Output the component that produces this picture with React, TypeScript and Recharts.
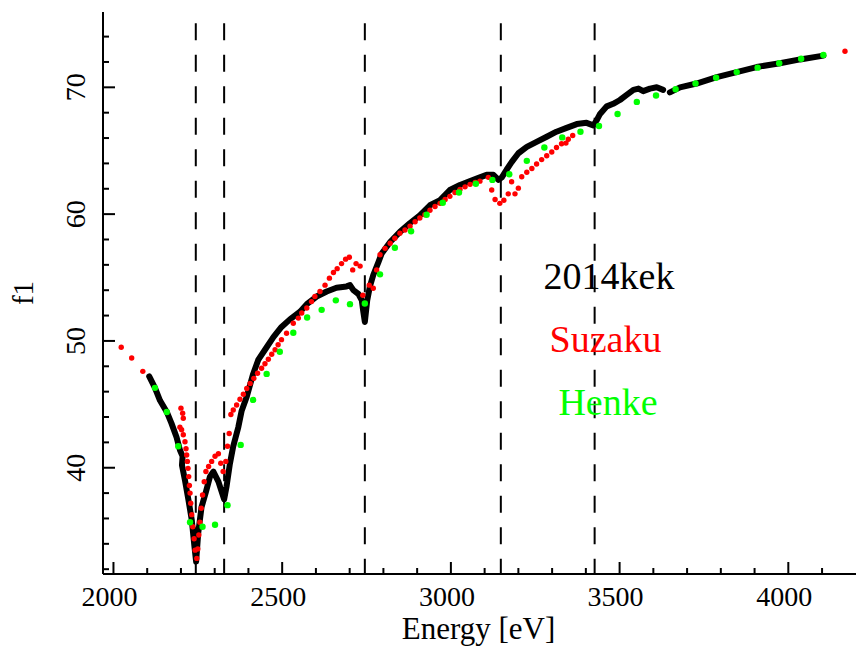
import React from "react";
import {
  ComposedChart,
  Line,
  Scatter,
  XAxis,
  YAxis,
  ReferenceLine,
  Legend,
} from "recharts";

// 2014kek (black)
const kekEnergy = [
  2106, 2123, 2138, 2158, 2172, 2187, 2197, 2205, 2203, 2212, 2222, 2232, 2240, 2245, 2251,
  2261, 2274, 2286, 2296, 2311, 2328, 2335, 2345, 2355, 2370, 2380, 2395, 2414, 2429, 2454,
  2474, 2498, 2523, 2553, 2573, 2602, 2632, 2661, 2691, 2701, 2711, 2726, 2736, 2740, 2745,
  2752, 2760, 2770, 2785, 2795, 2820, 2849, 2879, 2908, 2938, 2968, 2997, 3027, 3057, 3086,
  3106, 3126, 3141, 3151, 3165, 3180, 3200, 3225, 3254, 3284, 3313, 3343, 3373, 3402, 3422,
  3432, 3442, 3462, 3481, 3501, 3521, 3541, 3556, 3570, 3590, 3610, 3629, 3639, 3649, 3679,
  3728, 3788, 3847, 3906, 3975, 4035, 4104,
];
const kekF1 = [
  47.2, 46.3, 45.3, 44.4, 43.5, 42.4, 41.4, 40.9, 40.2, 39.0, 37.5, 35.9, 33.8, 32.6, 34.8,
  36.9, 38.1, 39.3, 39.7, 38.9, 37.5, 38.5, 40.3, 41.7, 43.2, 44.5, 45.6, 47.4, 48.5, 49.5,
  50.3, 51.1, 51.7, 52.3, 52.9, 53.5, 53.9, 54.2, 54.3, 54.4, 54.0, 53.7, 53.2, 52.4, 51.5,
  53.2, 54.3, 55.2, 56.2, 56.9, 57.8, 58.6, 59.3, 59.9, 60.7, 61.1, 61.9, 62.3, 62.6, 62.9,
  63.1, 63.1, 62.7, 62.9, 63.5, 64.1, 64.8, 65.3, 65.7, 66.1, 66.5, 66.8, 67.1, 67.2, 67.0,
  67.4, 67.9, 68.5, 68.7, 69.0, 69.4, 69.8, 69.9, 69.7, 69.9, 70.0, 69.8, null, 69.6, 70.0,
  70.3, 70.8, 71.2, 71.6, 71.9, 72.2, 72.5,
];

// Suzaku (red)
const suzakuEnergy = [
  2023, 2054, 2087, 2197, 2200, 2202, 2205, 2207, 2207, 2212, 2215, 2217, 2219, 2221, 2223,
  2225, 2227, 2229, 2232, 2235, 2239, 2242, 2247, 2250, 2253, 2256, 2260, 2264, 2269, 2274,
  2282, 2291, 2301, 2311, 2318, 2325, 2333, 2338, 2343, 2348, 2355, 2365, 2375, 2385, 2395,
  2405, 2416, 2427, 2439, 2449, 2459, 2469, 2479, 2488, 2498, 2513, 2533, 2548, 2558, 2573,
  2587, 2597, 2612, 2627, 2640, 2652, 2663, 2676, 2688, 2699, 2709, 2719, 2731, 2739, 2758,
  2770, 2780, 2790, 2805, 2820, 2834, 2849, 2864, 2879, 2894, 2908, 2923, 2938, 2953, 2968,
  2983, 2997, 3012, 3027, 3042, 3057, 3072, 3086, 3111, 3121, 3131, 3145, 3157, 3170, 3180,
  3190, 3200, 3210, 3225, 3240, 3254, 3269, 3284, 3299, 3313, 3328, 3341, 3348, 3361, 4168,
];
const suzakuF1 = [
  49.5, 48.65, 47.6, 43.2, 44.7, 43.0, 44.3, 43.9, 42.6, 42.05, 41.5, 41.0, 40.5, 39.95, 39.3,
  38.6, 38.0, 37.2, 36.3, 35.35, 34.4, 33.5, 32.85, 33.6, 34.7, 35.7, 36.8, 37.85, 38.9, 39.7,
  40.1, 40.5, 40.9, 41.1, 40.35, 39.7, 40.5, 41.7, 42.7, 44.2, 44.55, 44.95, 45.4, 45.8, 46.25,
  46.65, 47.05, 47.45, 47.85, 48.2, 48.55, 48.95, 49.3, 49.7, 50.1, 50.6, 51.4, 51.8, 52.2, 52.6,
  53.1, 53.5, 53.9, 54.4, 54.95, 55.4, 55.7, 56.1, 56.45, 56.6, 55.6, 56.1, 55.9, 53.6, 54.4,
  54.15, 55.6, 56.8, 57.3, 57.7, 58.1, 58.5, 58.75, 59.05, 59.4, 59.7, 59.95, 60.3, 60.6, 60.85,
  61.15, 61.4, 61.7, 61.95, 62.15, 62.35, 62.5, 62.6, 62.9, 61.9, 61.15, 60.85, 61.1, 61.6, 62.55,
  61.6, 62.05, 62.95, 63.3, 63.6, 63.95, 64.3, 64.6, 64.9, 65.25, 65.55, 65.6, 65.9, 66.2, 72.85,
];

// Henke (green)
const henkeEnergy = [
  2123, 2158, 2192, 2227, 2264, 2301, 2338, 2377, 2414, 2454, 2493, 2533, 2574, 2617, 2659,
  2701, 2745, 2790, 2834, 2882, 2928, 2976, 3024, 3074, 3123, 3173, 3225, 3277, 3330, 3384,
  3439, 3494, 3551, 3608, 3666, 3725, 3786, 3847, 3909, 3973, 4038, 4104,
];
const henkeF1 = [
  46.3, 44.4, 41.7, 35.7, 35.35, 35.5, 37.05, 41.8, 45.35, 47.4, 49.15, 50.65, 51.85, 52.45, 53.2,
  52.9, 52.95, 55.25, 57.35, 58.65, 59.95, 60.9, 61.7, 62.4, 62.7, 63.15, 64.2, 65.25, 66.05, 66.5,
  66.95, 67.9, 68.85, 69.35, 69.85, 70.3, 70.75, 71.2, 71.55, 71.9, 72.25, 72.55,
];

// absorption edges (dashed lines)
const edgeEnergies = [2244, 2328, 2745, 3148, 3426];

const xTicks = [
  2000, 2100, 2200, 2300, 2400, 2500, 2600, 2700, 2800, 2900, 3000, 3100, 3200, 3300, 3400,
  3500, 3600, 3700, 3800, 3900, 4000, 4100,
];
const xLabelTicks = [2000, 2500, 3000, 3500, 4000];
const yTicks = [
  32, 34, 36, 38, 40, 42, 44, 46, 48, 50, 52, 54, 56, 58, 60, 62, 64, 66, 68, 70, 72, 74,
];
const yLabelTicks = [40, 50, 60, 70];

const seriesNames = ["2014kek", "Suzaku", "Henke"];

const kek = kekEnergy.map((e, i) => ({ e, f: kekF1[i] }));
const suzaku = suzakuEnergy.map((e, i) => ({ e, f: suzakuF1[i] }));
const henke = henkeEnergy.map((e, i) => ({ e, f: henkeF1[i] }));

const FONT = "Liberation Serif, Times New Roman, serif";
const X_DOMAIN = [1969, 4200.6];
const Y_DOMAIN = [31.62, 75.94];

function BottomTick({ x, y, payload }: any) {
  const major = xLabelTicks.includes(payload.value);
  return (
    <g>
      <line x1={x} x2={x} y1={y} y2={y - (major ? 12 : 6)} stroke="#000" strokeWidth={2} />
      {major && (
        <text x={x - 4} y={y + 32} textAnchor="middle" fontSize={28} fontFamily={FONT} fill="#000">
          {payload.value}
        </text>
      )}
    </g>
  );
}

function TopTick({ x, y, payload }: any) {
  const major = xLabelTicks.includes(payload.value);
  return <line x1={x} x2={x} y1={y} y2={y + (major ? 12 : 6)} stroke="#000" strokeWidth={2} />;
}

function LeftTick({ x, y, payload }: any) {
  const major = yLabelTicks.includes(payload.value);
  const tx = x - 18;
  return (
    <g>
      <line x1={x} x2={x + (major ? 12 : 6)} y1={y} y2={y} stroke="#000" strokeWidth={2} />
      {major && (
        <text
          x={tx}
          y={y}
          transform={`rotate(-90 ${tx} ${y})`}
          textAnchor="middle"
          fontSize={28}
          fontFamily={FONT}
          fill="#000"
        >
          {payload.value}
        </text>
      )}
    </g>
  );
}

function RightTick({ x, y, payload }: any) {
  const major = yLabelTicks.includes(payload.value);
  return <line x1={x} x2={x - (major ? 12 : 6)} y1={y} y2={y} stroke="#000" strokeWidth={2} />;
}

function XTitle(props: any) {
  const vb = props.viewBox;
  return (
    <text x={vb.x + vb.width / 2 - 1} y={vb.y + 65} textAnchor="middle" fontSize={31} fontFamily={FONT} fill="#000">
      Energy [eV]
    </text>
  );
}

function YTitle(props: any) {
  const vb = props.viewBox;
  const tx = vb.x + 33;
  const ty = vb.y + vb.height / 2;
  return (
    <text x={tx} y={ty} transform={`rotate(-90 ${tx} ${ty})`} textAnchor="middle" fontSize={29} fontFamily={FONT} fill="#000">
      f1
    </text>
  );
}

// series names written inside the plot, as in the original
const legendSpots = [
  { x: 609, y: 289 },
  { x: 605.5, y: 352 },
  { x: 608, y: 415 },
];

function NameLegend({ payload }: any) {
  const items = payload || [];
  return (
    <svg width={857} height={648} style={{ position: "absolute", left: 0, top: 0, pointerEvents: "none" }}>
      {seriesNames.map((name, i) => {
        const item = items.find((p: any) => p.value === name);
        return (
          <text
            key={name}
            x={legendSpots[i].x}
            y={legendSpots[i].y}
            textAnchor="middle"
            fontSize={38}
            fontFamily={FONT}
            fill={item ? item.color : "#000"}
          >
            {name}
          </text>
        );
      })}
    </svg>
  );
}

const axisLine = { stroke: "#000", strokeWidth: 2 };

export default function App() {
  return (
    <div style={{ position: "absolute", left: 0, top: 0, background: "#fff" }}>
      <ComposedChart width={857} height={648} margin={{ top: 12, right: 1, bottom: 0, left: 0 }}>
        <XAxis
          xAxisId="main"
          dataKey="e"
          type="number"
          domain={X_DOMAIN}
          allowDataOverflow
          ticks={xTicks}
          interval={0}
          height={74}
          tickSize={0}
          tickMargin={0}
          tickLine={false}
          axisLine={axisLine}
          tick={(p: any) => <BottomTick {...p} />}
          label={(p: any) => <XTitle {...p} />}
        />
        <XAxis
          xAxisId="top"
          orientation="top"
          dataKey="e"
          type="number"
          domain={X_DOMAIN}
          allowDataOverflow
          ticks={xTicks}
          interval={0}
          height={0}
          tickSize={0}
          tickMargin={0}
          tickLine={false}
          axisLine={axisLine}
          tick={(p: any) => <TopTick {...p} />}
        />
        <YAxis
          yAxisId="main"
          dataKey="f"
          type="number"
          domain={Y_DOMAIN}
          allowDataOverflow
          ticks={yTicks}
          interval={0}
          width={103}
          tickSize={0}
          tickMargin={0}
          tickLine={false}
          axisLine={axisLine}
          tick={(p: any) => <LeftTick {...p} />}
          label={(p: any) => <YTitle {...p} />}
        />
        <YAxis
          yAxisId="right"
          orientation="right"
          dataKey="f"
          type="number"
          domain={Y_DOMAIN}
          allowDataOverflow
          ticks={yTicks}
          interval={0}
          width={0}
          tickSize={0}
          tickMargin={0}
          tickLine={false}
          axisLine={axisLine}
          tick={(p: any) => <RightTick {...p} />}
        />

        {edgeEnergies.map((e) => (
          <ReferenceLine
            key={e}
            xAxisId="main"
            yAxisId="main"
            segment={[
              { x: e, y: 75.05 },
              { x: e, y: 31.62 },
            ]}
            stroke="#000"
            strokeWidth={2}
            strokeDasharray="17 14.5"
          />
        ))}

        <Line
          xAxisId="main"
          yAxisId="main"
          name="2014kek"
          data={kek}
          dataKey="f"
          type="linear"
          stroke="#000"
          strokeWidth={6}
          strokeLinecap="round"
          strokeLinejoin="round"
          dot={false}
          isAnimationActive={false}
        />
        <Scatter
          xAxisId="main"
          yAxisId="main"
          name="Suzaku"
          data={suzaku}
          fill="#ff0000"
          shape={(p: any) => <circle cx={p.cx} cy={p.cy} r={2.7} fill="#ff0000" />}
          isAnimationActive={false}
        />
        <Scatter
          xAxisId="main"
          yAxisId="main"
          name="Henke"
          data={henke}
          fill="#00ff00"
          shape={(p: any) => <circle cx={p.cx} cy={p.cy} r={3.2} fill="#00ff00" />}
          isAnimationActive={false}
        />
        <Legend
          layout="vertical"
          align="center"
          verticalAlign="middle"
          wrapperStyle={{ left: 0, top: 0, width: 857, height: 648 }}
          content={(p: any) => <NameLegend {...p} />}
        />
      </ComposedChart>
    </div>
  );
}
